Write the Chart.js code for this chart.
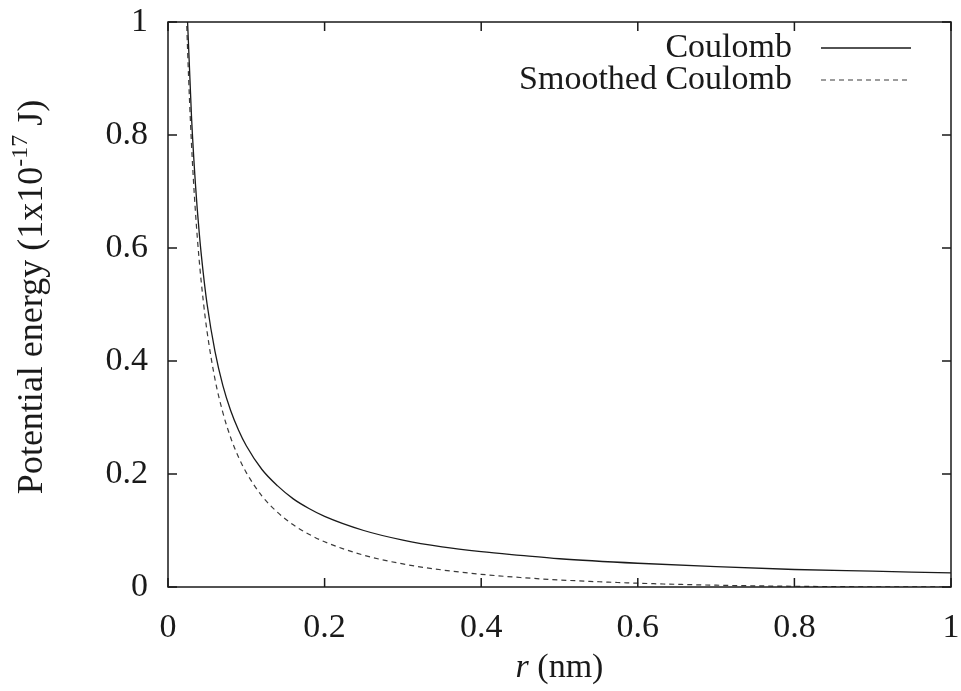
<!DOCTYPE html>
<html>
<head>
<meta charset="utf-8">
<script src="https://cdn.jsdelivr.net/npm/chart.js@4"></script>
<style>
  html, body { margin: 0; padding: 0; background: #fff; }
  #wrap { width: 961px; height: 691px; }
</style>
</head>
<body>
<div id="wrap"><canvas id="pot-chart"></canvas></div>
<script>
// r in nm, energies in 1e-17 J
const rValues = [0.02, 0.022, 0.025, 0.03, 0.035, 0.04, 0.045, 0.05, 0.06, 0.07, 0.08, 0.09, 0.1,
                 0.12, 0.14, 0.16, 0.18, 0.2, 0.25, 0.3, 0.35, 0.4, 0.45, 0.5, 0.6, 0.7, 0.8, 0.9, 1.0];
const coulomb = [1.25, 1.136, 1.0, 0.833, 0.714, 0.625, 0.556, 0.5, 0.417, 0.357, 0.3125, 0.278, 0.25,
                 0.208, 0.179, 0.156, 0.139, 0.125, 0.1, 0.083, 0.071, 0.0625, 0.056, 0.05, 0.042, 0.036, 0.031, 0.028, 0.025];
const smoothed = [1.2, 1.087, 0.951, 0.784, 0.665, 0.576, 0.507, 0.451, 0.368, 0.309, 0.2645, 0.23, 0.2025,
                  0.161, 0.132, 0.11, 0.0934, 0.08, 0.0563, 0.0408, 0.0302, 0.0225, 0.0168, 0.0125, 0.0067, 0.0032, 0.0013, 0.0003, 0];

const xTicks = [0, 0.2, 0.4, 0.6, 0.8, 1];
const yTicks = [0, 0.2, 0.4, 0.6, 0.8, 1];
const tickLabels = ['0', '0.2', '0.4', '0.6', '0.8', '1'];

const FONT = "'Liberation Serif', 'Times New Roman', serif";
const INK = '#1a1a1a';

function toPoints(ys) {
    return rValues.map((r, i) => ({ x: r, y: ys[i] }));
}

// frame, inward ticks on all sides, gnuplot-style key and axis titles
const gnuplotLook = {
    id: 'gnuplotLook',
    afterDraw(chart) {
        const { ctx, chartArea: a, scales } = chart;
        const tick = 9;
        ctx.save();
        ctx.strokeStyle = INK;
        ctx.lineWidth = 1.5;
        ctx.setLineDash([]);
        ctx.strokeRect(a.left, a.top, a.width, a.height);

        ctx.beginPath();
        xTicks.forEach(v => {
            const px = scales.x.getPixelForValue(v);
            ctx.moveTo(px, a.bottom); ctx.lineTo(px, a.bottom - tick);
            ctx.moveTo(px, a.top); ctx.lineTo(px, a.top + tick);
        });
        yTicks.forEach(v => {
            const py = scales.y.getPixelForValue(v);
            ctx.moveTo(a.left, py); ctx.lineTo(a.left + tick, py);
            ctx.moveTo(a.right, py); ctx.lineTo(a.right - tick, py);
        });
        ctx.stroke();

        // key: text right-aligned, sample line to its right
        ctx.font = '34px ' + FONT;
        ctx.fillStyle = INK;
        ctx.textAlign = 'right';
        ctx.textBaseline = 'middle';
        chart.data.datasets.forEach((ds, i) => {
            const y = a.top + 26 + i * 32;
            ctx.fillText(ds.label, a.left + 624, y);
            ctx.strokeStyle = ds.borderColor;
            ctx.lineWidth = ds.borderWidth;
            ctx.setLineDash(ds.borderDash || []);
            ctx.beginPath();
            ctx.moveTo(a.left + 653, y);
            ctx.lineTo(a.left + 743, y);
            ctx.stroke();
        });
        ctx.setLineDash([]);

        // x title: italic r then (nm)
        const xMid = (a.left + a.right) / 2;
        const ty = a.bottom + 81;
        ctx.textAlign = 'left';
        ctx.font = 'italic 34px ' + FONT;
        const rW = ctx.measureText('r').width;
        ctx.font = '34px ' + FONT;
        const restW = ctx.measureText(' (nm)').width;
        const x0 = xMid - (rW + restW) / 2;
        ctx.font = 'italic 34px ' + FONT;
        ctx.fillText('r', x0, ty);
        ctx.font = '34px ' + FONT;
        ctx.fillText(' (nm)', x0 + rW, ty);

        // y title with superscript exponent
        ctx.save();
        ctx.translate(33, 297);
        ctx.rotate(-Math.PI / 2);
        const p1 = 'Potential energy (1x10', sup = '-17', p2 = ' J)';
        ctx.font = '36px ' + FONT;
        const w1 = ctx.measureText(p1).width, w3 = ctx.measureText(p2).width;
        ctx.font = '24px ' + FONT;
        const w2 = ctx.measureText(sup).width;
        const sx = -(w1 + w2 + w3) / 2;
        ctx.font = '36px ' + FONT;
        ctx.fillText(p1, sx, 0);
        ctx.font = '24px ' + FONT;
        ctx.fillText(sup, sx + w1, -12);
        ctx.font = '36px ' + FONT;
        ctx.fillText(p2, sx + w1 + w2, 0);
        ctx.restore();

        ctx.restore();
    }
};

function initializeChart() {
    const ctx = document.getElementById('pot-chart').getContext('2d');
    new Chart(ctx, {
        type: 'line',
        data: {
            datasets: [
                {
                    label: 'Coulomb',
                    data: toPoints(coulomb),
                    borderColor: '#1a1a1a',
                    borderWidth: 1.3,
                    pointRadius: 0,
                    cubicInterpolationMode: 'monotone',
                    fill: false,
                },
                {
                    label: 'Smoothed Coulomb',
                    data: toPoints(smoothed),
                    borderColor: '#3a3a3a',
                    borderWidth: 1.2,
                    borderDash: [5, 4],
                    pointRadius: 0,
                    cubicInterpolationMode: 'monotone',
                    fill: false,
                },
            ],
        },
        options: {
            responsive: true,
            maintainAspectRatio: false,
            animation: false,
            layout: { padding: { top: 22, right: 10, left: 70, bottom: 0 } },
            plugins: {
                legend: { display: false },
                tooltip: { enabled: false },
            },
            scales: {
                x: {
                    type: 'linear',
                    min: 0,
                    max: 1,
                    afterBuildTicks: s => { s.ticks = xTicks.map(v => ({ value: v })); },
                    afterFit: s => {
                        s.height = 104;
                        s.paddingLeft = 0; s.paddingRight = 0;
                    },
                    grid: { display: false },
                    border: { display: false },
                    ticks: {
                        padding: 13,
                        color: INK,
                        font: { family: FONT, size: 34 },
                        maxRotation: 0,
                        callback: (v, i) => tickLabels[i],
                    },
                },
                y: {
                    min: 0,
                    max: 1,
                    afterBuildTicks: s => { s.ticks = yTicks.map(v => ({ value: v })); },
                    afterFit: s => {
                        s.width = 98;
                        s.paddingTop = 0; s.paddingBottom = 0;
                    },
                    grid: { display: false },
                    border: { display: false },
                    ticks: {
                        padding: 12,
                        color: INK,
                        font: { family: FONT, size: 34 },
                        callback: (v, i) => tickLabels[i],
                    },
                },
            },
        },
        plugins: [gnuplotLook],
    });
}

window.addEventListener('load', initializeChart);
</script>
</body>
</html>
